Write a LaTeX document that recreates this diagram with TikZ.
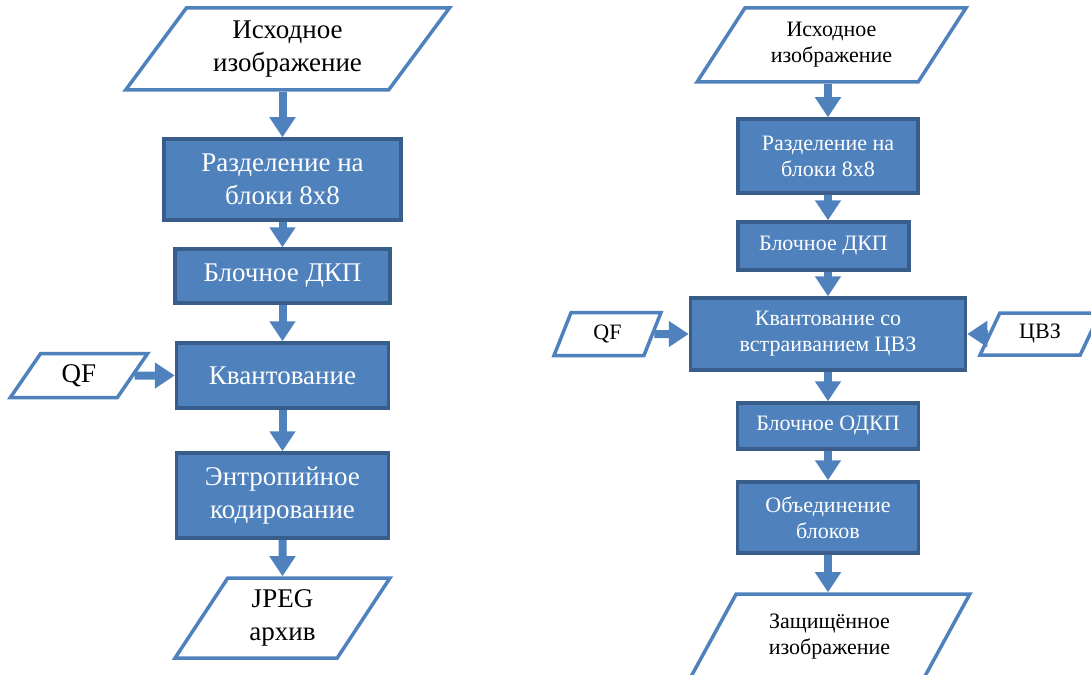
\documentclass[tikz,border=0pt]{standalone}
\usepackage{fontspec}
\setmainfont{Liberation Serif}
\usetikzlibrary{arrows.meta, positioning, shapes.geometric, calc}
\definecolor{boxblue}{HTML}{4F81BD}
\definecolor{boxedge}{HTML}{385D8A}

\tikzset{
    block/.style={rectangle, fill=boxblue, draw=boxedge, line width=3.5pt, text=white, align=center, inner sep=0pt},
    io/.style={trapezium, trapezium left angle=#1, trapezium right angle={180-#1}, trapezium stretches=true, draw=boxblue, line width=3.5pt, fill=white, align=center, inner sep=0pt},
    flow/.style={draw=boxblue, line width=8pt, -{Triangle[width=25pt, length=20pt]}},
    bigtxt/.style={font=\fontsize{27}{33}\selectfont},
    smalltxt/.style={font=\fontsize{22}{26}\selectfont},
}

\begin{document}
\begin{tikzpicture}[x=1pt, y=-1pt]
    \useasboundingbox (0, 0) rectangle (1091, 674);

    % left: jpeg
    \node[io=51.6, bigtxt, minimum width=325, minimum height=82] (src_left) at (287.5, 49) {Исходное\\изображение};
    \node[block, bigtxt, minimum width=237, minimum height=81] (split_left) at (282.5, 179.5) {Разделение на\\блоки 8x8};
    \node[block, bigtxt, minimum width=215, minimum height=54] (dct_left) at (282.5, 276) {Блочное ДКП};
    \node[block, bigtxt, minimum width=212, minimum height=65] (quant_left) at (282.5, 375.5) {Квантование};
    \node[io=58.5, bigtxt, minimum width=138, minimum height=44] (qf_left) at (79, 375.5) {QF};
    \node[block, bigtxt, minimum width=212, minimum height=85] (entropy_left) at (282.5, 495.5) {Энтропийное\\кодирование};
    \node[io=60.6, bigtxt, minimum width=215, minimum height=80] (jpeg_left) at (282.5, 618) {JPEG\\архив};

    \draw[flow] (src_left.south -| split_left) -- (split_left);
    \draw[flow] (split_left) -- (dct_left);
    \draw[flow] (dct_left) -- (quant_left);
    \draw[flow] (qf_left) -- (quant_left);
    \draw[flow] (quant_left) -- (entropy_left);
    \draw[flow] (entropy_left) -- (jpeg_left);

    % right: embedding
    \node[io=53.4, smalltxt, minimum width=269, minimum height=74] (src_right) at (831.5, 45) {Исходное\\изображение};
    \node[block, smalltxt, minimum width=180, minimum height=74] (split_right) at (828, 156) {Разделение на\\блоки 8x8};
    \node[block, smalltxt, minimum width=171, minimum height=48] (dct_right) at (823.5, 246) {Блочное ДКП};
    \node[block, smalltxt, minimum width=275, minimum height=72] (quant_right) at (828, 334) {Квантование со\\встраиванием ЦВЗ};
    \node[io=70, smalltxt, minimum width=107, minimum height=43] (qf_right) at (607.5, 334) {QF};
    \node[io=62, smalltxt, minimum width=120, minimum height=42] (wm_right) at (1040, 334) {ЦВЗ};
    \node[block, smalltxt, minimum width=181, minimum height=46] (idct_right) at (828, 426) {Блочное ОДКП};
    \node[block, smalltxt, minimum width=181, minimum height=71] (merge_right) at (828, 517.5) {Объединение\\блоков};
    \node[io=56, smalltxt, minimum width=281, minimum height=86] (out_right) at (829.5, 637) {Защищённое\\изображение};

    \draw[flow] (src_right.south -| split_right) -- (split_right);
    \draw[flow] (split_right) -- (split_right |- dct_right.north);
    \draw[flow] (dct_right.south -| quant_right) -- (quant_right);
    \draw[flow] (qf_right) -- (quant_right);
    \draw[flow] (wm_right) -- (quant_right);
    \draw[flow] (quant_right) -- (idct_right);
    \draw[flow] (idct_right) -- (merge_right);
    \draw[flow] (merge_right.south) -- (merge_right.south |- out_right.north);
\end{tikzpicture}
\end{document}
